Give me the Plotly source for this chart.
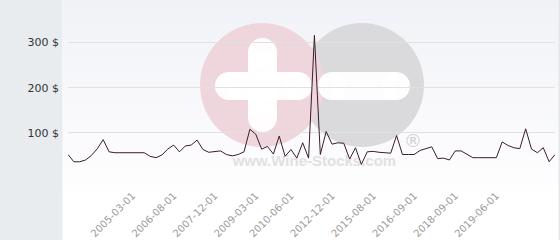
import plotly.graph_objects as go

# ---------------- data ----------------
dates = [
    "2003-05-01", "2003-08-01", "2003-10-01", "2003-12-01", "2004-02-01", "2004-04-01",
    "2004-06-01", "2004-08-01", "2004-10-01", "2004-12-01", "2005-01-01", "2005-03-01",
    "2005-05-01", "2005-08-01", "2005-10-01", "2006-01-01", "2006-03-01", "2006-06-01",
    "2006-08-01", "2006-10-01", "2006-12-01", "2007-02-01", "2007-05-01", "2007-07-01",
    "2007-10-01", "2007-12-01", "2008-02-01", "2008-04-01", "2008-06-01", "2008-09-01",
    "2008-11-01", "2009-01-01", "2009-03-01", "2009-06-01", "2009-08-01", "2009-11-01",
    "2010-01-01", "2010-04-01", "2010-06-01", "2010-11-01", "2011-04-01", "2011-09-01",
    "2012-01-01", "2012-05-01", "2012-09-01", "2012-12-01", "2013-05-01", "2013-10-01",
    "2014-03-01", "2014-07-01", "2014-11-01", "2015-04-01", "2015-08-01", "2015-10-01",
    "2015-12-01", "2016-02-01", "2016-04-01", "2016-06-01", "2016-07-01", "2016-09-01",
    "2016-12-01", "2017-04-01", "2017-08-01", "2017-12-01", "2018-03-01", "2018-06-01",
    "2018-09-01", "2018-10-01", "2018-12-01", "2019-01-01", "2019-02-01", "2019-03-01",
    "2019-05-01", "2019-06-01", "2019-08-01", "2019-10-01", "2019-12-01", "2020-02-01",
    "2020-04-01", "2020-06-01", "2020-08-01", "2020-10-01", "2020-12-01", "2021-02-01",
]
prices = [
    52, 36, 36, 40, 50, 65, 85, 58, 56, 56, 56, 56,
    56, 56, 48, 45, 51, 64, 73, 58, 71, 73, 84, 63,
    57, 58, 60, 52, 49, 52, 58, 108, 97, 64, 70, 53,
    93, 48, 63, 44, 78, 44, 316, 52, 103, 75, 78, 77,
    42, 67, 30, 58, 59, 57, 56, 55, 94, 52, 52, 52,
    61, 65, 69, 43, 44, 40, 60, 60, 53, 45, 45, 45,
    45, 45, 80, 72, 67, 65, 109, 64, 56, 67, 36, 52,
]
tick_labels = ["2005-03-01", "2006-08-01", "2007-12-01", "2009-03-01", "2010-06-01",
               "2012-12-01", "2015-08-01", "2016-09-01", "2018-09-01", "2019-06-01"]
y_ticks = [0, 100, 200, 300]
y_tick_text = ["", "100 $", "200 $", "300 $"]
watermark_text = "www.Wine-Stocks.com"

# ---------------- geometry helpers ----------------
W, H = 560, 240
L, R, T, B = 68, 5, 20, 62
pw, ph = W - L - R, H - T - B
Y_MAX = 350


def px_x(px):
    return (px - L) / pw


def px_y(py):
    return (H - B - py) / ph


shapes = []


def rect(x0, y0, x1, y1, color):
    shapes.append(dict(type="rect", xref="paper", yref="paper", layer="below",
                       x0=px_x(x0), x1=px_x(x1), y0=px_y(y1), y1=px_y(y0),
                       fillcolor=color, line=dict(width=0)))


def circle(cx, cy, r, color):
    shapes.append(dict(type="circle", xref="paper", yref="paper", layer="below",
                       x0=px_x(cx - r), x1=px_x(cx + r), y0=px_y(cy + r), y1=px_y(cy - r),
                       fillcolor=color, line=dict(width=0)))


# background panel (gradient from light bluish grey to white)
n_bands = 24
top_c, bot_c = (241, 242, 247), (254, 254, 255)
for k in range(n_bands):
    f = k / (n_bands - 1)
    c = tuple(round(top_c[i] + (bot_c[i] - top_c[i]) * f) for i in range(3))
    rect(63, k * 190 / n_bands, 559, (k + 1) * 190 / n_bands + 0.5, "rgb(%d,%d,%d)" % c)
# left sidebar
rect(0, 0, 62.5, 240, "#e8ecef")
# right border
rect(558.5, 0, 560, 240, "#e4e6ea")

# watermark logo
circle(362, 85, 62, "#dadadc")
circle(262, 85, 62, "#efd6dd")
white = "rgba(255,255,255,0.95)"
rect(248, 52.5, 277, 117.5, white)
circle(262.5, 52.5, 14.5, white)
circle(262.5, 117.5, 14.5, white)
rect(229, 72, 298, 100, white)
circle(229, 86, 14, white)
circle(298, 86, 14, white)
rect(332, 72, 396, 100, white)
circle(332, 86, 14, white)
circle(396, 86, 14, white)

fig = go.Figure()
fig.add_trace(go.Scatter(
    x=[dates[42]], y=[(H - B - 162) / ph * Y_MAX], mode="text", text=[watermark_text],
    textfont=dict(family="Liberation Sans", size=15, color="#e1e1e1", weight="bold"),
    hoverinfo="skip", showlegend=False, cliponaxis=False))
fig.add_trace(go.Scatter(
    x=dates, y=prices, mode="lines",
    line=dict(color="#3a1d2b", width=1), showlegend=False))

fig.add_annotation(text="®", xref="paper", yref="paper", x=px_x(413), y=px_y(140),
                   xanchor="center", yanchor="middle",
                   showarrow=False, font=dict(family="DejaVu Sans", size=18, color="#cfcfd1"))

fig.update_layout(
    width=W, height=H, margin=dict(l=L, r=R, t=T, b=B, pad=0, autoexpand=False),
    paper_bgcolor="white", plot_bgcolor="rgba(0,0,0,0)",
    shapes=shapes, showlegend=False,
    xaxis=dict(type="category", categoryorder="array", categoryarray=dates,
               range=[0, len(dates) - 1], tickvals=tick_labels, automargin=False,
               ticktext=tick_labels, tickangle=-45, showgrid=False, zeroline=False,
               showline=False, ticks="", ticklabelstandoff=9,
               tickfont=dict(family="DejaVu Sans", size=10, color="#9a9a9a")),
    yaxis=dict(range=[0, Y_MAX], tickvals=y_ticks, ticktext=y_tick_text, automargin=False,
               showgrid=True, gridcolor="#e1e1e3", gridwidth=1, zeroline=False,
               showline=False, ticks="", ticklabelstandoff=8,
               tickfont=dict(family="DejaVu Sans", size=11, color="#333333")),
)

fig.write_html("out.html")
